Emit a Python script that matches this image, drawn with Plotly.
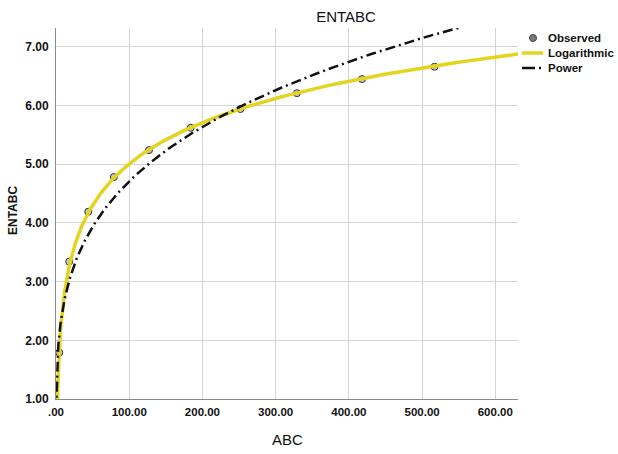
import numpy as np
import plotly.graph_objects as go

abc_obs = [4.5, 18, 44, 79, 127, 184, 252, 329, 418, 517]
entabc_obs = [1.79, 3.34, 4.19, 4.78, 5.24, 5.62, 5.94, 6.21, 6.45, 6.66]

x_tickvals = [0, 100, 200, 300, 400, 500, 600]
x_ticktext = [".00", "100.00", "200.00", "300.00", "400.00", "500.00", "600.00"]
y_tickvals = [1, 2, 3, 4, 5, 6, 7]
y_ticktext = ["1.00", "2.00", "3.00", "4.00", "5.00", "6.00", "7.00"]

legend_names = ["Observed", "Logarithmic", "Power"]

x_range = [0, 631]
y_range = [1, 7.32]

# Curve estimation fitted from the observed data (as SPSS does)
lx = np.log(np.array(abc_obs, dtype=float))
yy = np.array(entabc_obs, dtype=float)
b_log, a_log = np.polyfit(lx, yy, 1)              # y = a + b ln x
d_pow, lnc_pow = np.polyfit(lx, np.log(yy), 1)    # ln y = ln c + d ln x
c_pow = np.exp(lnc_pow)

xs = np.geomspace(0.1, x_range[1], 600)
y_log = a_log + b_log * np.log(xs)
y_pow = c_pow * xs ** d_pow

YELLOW = "#E3D420"
DARK = "#111111"
POWER_DASH = "10px,4px,2px,4px"

fig = go.Figure()
fig.add_trace(go.Scatter(
    x=abc_obs, y=entabc_obs, mode="markers", name=legend_names[0],
    marker=dict(size=7, color="rgba(150,150,150,0.55)", line=dict(color="#333333", width=1))))
fig.add_trace(go.Scatter(
    x=xs, y=y_log, mode="lines", name=legend_names[1],
    line=dict(color=YELLOW, width=3.5)))
fig.add_trace(go.Scatter(
    x=xs, y=y_pow, mode="lines", name=legend_names[2],
    line=dict(color=DARK, width=2.5, dash=POWER_DASH)))

W, H = 618, 454
L, R, T, B = 56, 100, 28, 55
pw, ph = W - L - R, H - T - B


def px_x(p):
    return (p - L) / pw


def px_y(p):
    return (H - B - p) / ph


# Manual legend (SPSS-style compact legend)
leg_rows = [38, 53, 68]
leg_text_x = 546
shapes = [
    dict(type="circle", xref="paper", yref="paper",
         x0=px_x(533 - 3.5), x1=px_x(533 + 3.5), y0=px_y(leg_rows[0] + 3.5), y1=px_y(leg_rows[0] - 3.5),
         fillcolor="#7a7a7a", line=dict(color="#444444", width=1)),
    dict(type="line", xref="paper", yref="paper",
         x0=px_x(522), x1=px_x(543), y0=px_y(leg_rows[1]), y1=px_y(leg_rows[1]),
         line=dict(color=YELLOW, width=3.5)),
    dict(type="line", xref="paper", yref="paper",
         x0=px_x(522), x1=px_x(535), y0=px_y(leg_rows[2]), y1=px_y(leg_rows[2]),
         line=dict(color=DARK, width=2.5)),
    dict(type="line", xref="paper", yref="paper",
         x0=px_x(539), x1=px_x(541), y0=px_y(leg_rows[2]), y1=px_y(leg_rows[2]),
         line=dict(color=DARK, width=2.5)),
]

annotations = [
    dict(text="ABC", xref="paper", yref="paper", x=px_x(287), y=px_y(439),
         xanchor="center", yanchor="middle", showarrow=False,
         font=dict(size=15, color=DARK)),
    dict(text="ENTABC", xref="paper", yref="paper", x=px_x(13), y=px_y(211),
         xanchor="center", yanchor="middle", textangle=-90, showarrow=False,
         font=dict(size=12, color=DARK, weight="bold")),
]
for name, row in zip(legend_names, leg_rows):
    annotations.append(dict(text=name, xref="paper", yref="paper", x=px_x(leg_text_x), y=px_y(row),
                            xanchor="left", yanchor="middle", showarrow=False,
                            font=dict(size=11.5, color=DARK, weight="bold")))

fig.update_layout(
    width=W, height=H,
    margin=dict(l=L, r=R, t=T, b=B, autoexpand=False),
    paper_bgcolor="white", plot_bgcolor="white",
    font=dict(family="Liberation Sans, Arial, sans-serif", color=DARK),
    title=dict(text="ENTABC", xref="container", x=346 / W, xanchor="center",
               yref="container", y=1 - 17 / H, yanchor="middle",
               font=dict(size=15, color=DARK)),
    xaxis=dict(range=x_range, tickvals=x_tickvals, ticktext=x_ticktext,
               showgrid=True, gridcolor="#d4d4d4", gridwidth=1,
               showline=True, linecolor="#8a8a8a", linewidth=1,
               zeroline=False, ticks="", ticklabelstandoff=2,
               tickfont=dict(size=11.5, family="Liberation Sans, Arial", weight="bold")),
    yaxis=dict(range=y_range, tickvals=y_tickvals, ticktext=y_ticktext,
               showgrid=True, gridcolor="#d4d4d4", gridwidth=1,
               showline=True, linecolor="#8a8a8a", linewidth=1,
               zeroline=False, ticks="", ticklabelstandoff=4,
               tickfont=dict(size=12, family="Liberation Sans, Arial", weight="bold")),
    showlegend=False,
    shapes=shapes,
    annotations=annotations,
)

fig.write_html("out.html")
